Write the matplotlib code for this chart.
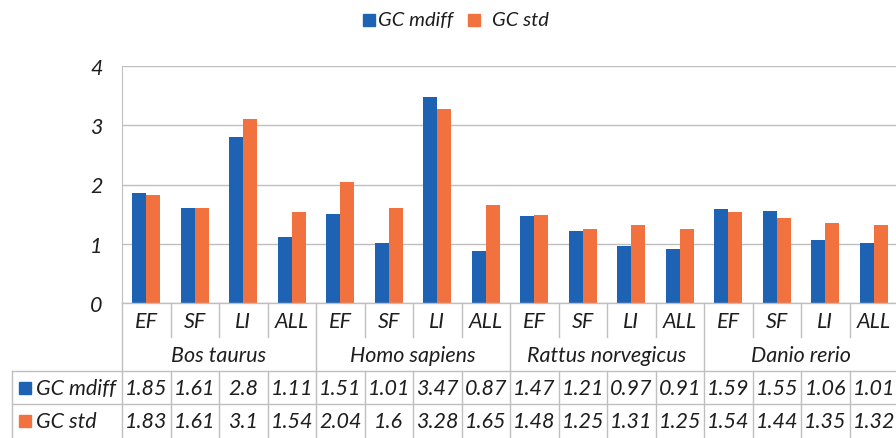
import matplotlib
matplotlib.use("Agg")
import matplotlib.pyplot as plt
from matplotlib.transforms import blended_transform_factory
from matplotlib.lines import Line2D
from matplotlib.patches import Rectangle

groups = ["Bos taurus", "Homo sapiens", "Rattus norvegicus", "Danio rerio"]
subcats = ["EF", "SF", "LI", "ALL"]
gc_mdiff = [1.85, 1.61, 2.8, 1.11, 1.51, 1.01, 3.47, 0.87, 1.47, 1.21, 0.97, 0.91, 1.59, 1.55, 1.06, 1.01]
gc_std = [1.83, 1.61, 3.1, 1.54, 2.04, 1.6, 3.28, 1.65, 1.48, 1.25, 1.31, 1.25, 1.54, 1.44, 1.35, 1.32]
mdiff_labels = ["1.85", "1.61", "2.8", "1.11", "1.51", "1.01", "3.47", "0.87", "1.47", "1.21", "0.97", "0.91", "1.59", "1.55", "1.06", "1.01"]
std_labels = ["1.83", "1.61", "3.1", "1.54", "2.04", "1.6", "3.28", "1.65", "1.48", "1.25", "1.31", "1.25", "1.54", "1.44", "1.35", "1.32"]
series_names = ["GC mdiff", "GC std"]
yticks = [0, 1, 2, 3, 4]

BLUE = "#1E62B4"
ORANGE = "#F1713F"
GRID = "#BFBFBF"
TXT = "#1E1E1E"
FONT = "Lato"
FS = 15.5

W, H = 896, 439
fig = plt.figure(figsize=(W / 100, H / 100), dpi=100)
plt.rcParams["font.family"] = [FONT, "DejaVu Sans"]

def fy(ypx):
    return 1 - ypx / H

def fx(xpx):
    return xpx / W

x_left, x_right = 122, 898
y_top, y_zero = 67, 304
ax = fig.add_axes([fx(x_left), fy(y_zero), fx(x_right) - fx(x_left), fy(y_top) - fy(y_zero)])
n = len(gc_mdiff)
xs = list(range(n))
bw = 0.29
ax.bar([x - bw / 2 for x in xs], gc_mdiff, width=bw, color=BLUE, zorder=3)
ax.bar([x + bw / 2 for x in xs], gc_std, width=bw, color=ORANGE, zorder=3)
ax.set_xlim(-0.5, n - 0.5)
ax.set_ylim(0, 4)
ax.set_yticks(yticks)
ax.set_yticklabels([str(t) for t in yticks], fontsize=FS, style="italic", color=TXT)
ax.tick_params(axis="y", length=0, pad=14)
ax.set_xticks([])
for s in ["top", "right", "bottom"]:
    ax.spines[s].set_visible(False)
ax.spines["left"].set_color(GRID)
ax.grid(axis="y", color=GRID, lw=1, zorder=0)
ax.set_axisbelow(True)

# table
tr = blended_transform_factory(ax.transData, fig.transFigure)
def vline(x, y0, y1, trans=tr):
    fig.add_artist(Line2D([x, x], [fy(y0), fy(y1)], transform=trans, color=GRID, lw=1))
def hline(x0, x1, y, trans=tr):
    fig.add_artist(Line2D([x0, x1], [fy(y), fy(y)], transform=trans, color=GRID, lw=1))

hline(-0.5, n - 0.5, y_zero)
hline(-0.5, n - 0.5, 372)
hline(-0.5, n - 0.5, 405)
ft = fig.transFigure
fig.add_artist(Line2D([fx(12), fx(x_left)], [fy(372), fy(372)], transform=ft, color=GRID, lw=1))
fig.add_artist(Line2D([fx(12), fx(x_left)], [fy(405), fy(405)], transform=ft, color=GRID, lw=1))
fig.add_artist(Line2D([fx(12), fx(12)], [fy(372), fy(439)], transform=ft, color=GRID, lw=1))
vline(-0.5, y_zero, 439)
for k in range(1, n + 1):
    xb = k - 0.5
    if k % 4 == 0:
        vline(xb, y_zero, 439)
    else:
        vline(xb, y_zero, 338)
        vline(xb, 372, 439)

for i in range(n):
    fig.text(i, fy(322), subcats[i % 4], transform=tr, ha="center", va="center",
             fontsize=FS, style="italic", color=TXT)
    fig.text(i, fy(389), mdiff_labels[i], transform=tr, ha="center", va="center",
             fontsize=FS, style="italic", color=TXT)
    fig.text(i, fy(422), std_labels[i], transform=tr, ha="center", va="center",
             fontsize=FS, style="italic", color=TXT)
for g, name in enumerate(groups):
    fig.text(g * 4 + 1.5, fy(356), name, transform=tr, ha="center", va="center",
             fontsize=FS, style="italic", color=TXT)

# row labels
for (yy, col, name) in [(389, BLUE, series_names[0]), (422, ORANGE, series_names[1])]:
    fig.add_artist(Rectangle((fx(19), fy(yy + 6)), fx(12), 12 / H, transform=ft, color=col))
    fig.text(fx(36), fy(yy), name, ha="left", va="center", fontsize=FS, style="italic", color=TXT)

# legend
fig.add_artist(Rectangle((fx(363), fy(27)), fx(12), 12 / H, transform=ft, color=BLUE))
fig.text(fx(378), fy(21), series_names[0], ha="left", va="center", fontsize=14.5, style="italic", color=TXT)
fig.add_artist(Rectangle((fx(468), fy(27)), fx(12), 12 / H, transform=ft, color=ORANGE))
fig.text(fx(492), fy(21), series_names[1], ha="left", va="center", fontsize=14.5, style="italic", color=TXT)

fig.savefig("out.png", dpi=100)
